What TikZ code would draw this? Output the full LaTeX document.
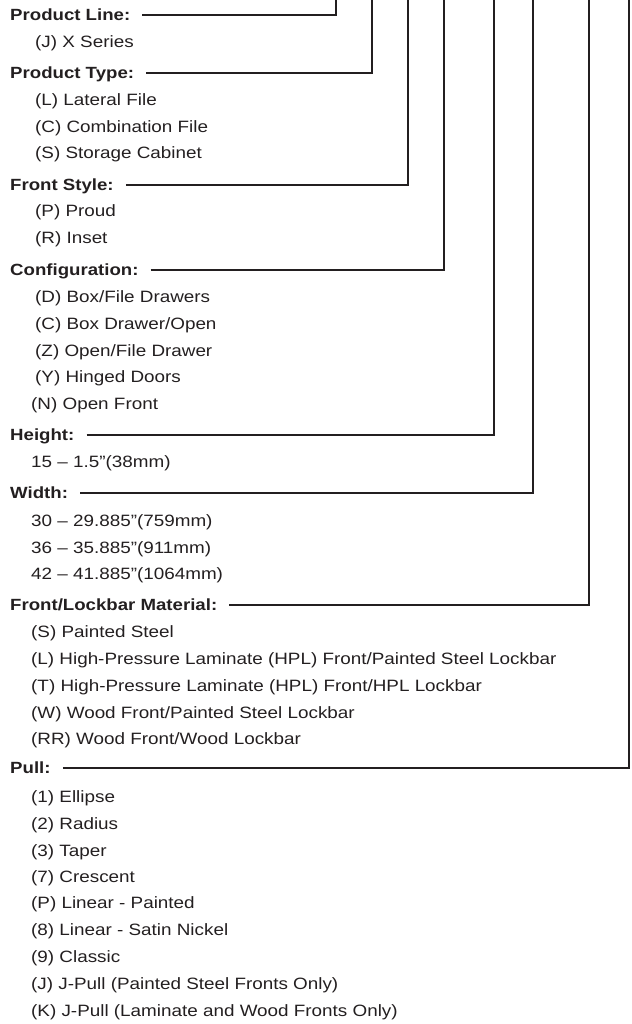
\documentclass[tikz,border=0pt]{standalone}
\usepackage{fontspec}
\setmainfont[FakeStretch=1.15]{Liberation Sans}
\definecolor{ink}{HTML}{231F20}
\begin{document}
\begin{tikzpicture}[x=1pt,y=-1pt,
  head/.style={anchor=base west, inner sep=0pt, text=ink, font=\bfseries\fontsize{16.2}{19}\selectfont},
  item/.style={anchor=base west, inner sep=0pt, text=ink, font=\fontsize{16.4}{19}\selectfont},
  conn/.style={draw=ink, line width=2pt, line join=miter}]
\useasboundingbox (0,0) rectangle (631,1024);
% top ends of the connectors
\coordinate (t1) at (336,0);
\coordinate (t2) at (372,0);
\coordinate (t3) at (408,0);
\coordinate (t4) at (444,0);
\coordinate (t5) at (494,0);
\coordinate (t6) at (533,0);
\coordinate (t7) at (589,0);
\coordinate (t8) at (629,0);
% Product Line
\node[head] (h1) at (10,20.7) {Product Line:};
\node[item] (i11) at (35,47.7) {(J) X Series};
% Product Type
\node[head] (h2) at (10,78.7) {Product Type:};
\node[item] (i21) at (35,105.7) {(L) Lateral File};
\node[item] (i22) at (35,132.7) {(C) Combination File};
\node[item] (i23) at (35,158.7) {(S) Storage Cabinet};
% Front Style
\node[head] (h3) at (10,190.7) {Front Style:};
\node[item] (i31) at (35,216.7) {(P) Proud};
\node[item] (i32) at (35,243.7) {(R) Inset};
% Configuration
\node[head] (h4) at (10,275.7) {Configuration:};
\node[item] (i41) at (35,302.7) {(D) Box/File Drawers};
\node[item] (i42) at (35,329.7) {(C) Box Drawer/Open};
\node[item] (i43) at (35,356.7) {(Z) Open/File Drawer};
\node[item] (i44) at (35,382.7) {(Y) Hinged Doors};
\node[item] (i45) at (31,409.7) {(N) Open Front};
% Height
\node[head] (h5) at (10,440.7) {Height:};
\node[item] (i51) at (31,467.7) {15 – 1.5”(38mm)};
% Width
\node[head] (h6) at (10,498.7) {Width:};
\node[item] (i61) at (31,526.7) {30 – 29.885”(759mm)};
\node[item] (i62) at (31,553.7) {36 – 35.885”(911mm)};
\node[item] (i63) at (31,579.7) {42 – 41.885”(1064mm)};
% Front/Lockbar Material
\node[head] (h7) at (10,610.7) {Front/Lockbar Material:};
\node[item] (i71) at (31,637.7) {(S) Painted Steel};
\node[item] (i72) at (31,664.7) {(L) High-Pressure Laminate (HPL) Front/Painted Steel Lockbar};
\node[item] (i73) at (31,691.7) {(T) High-Pressure Laminate (HPL) Front/HPL Lockbar};
\node[item] (i74) at (31,718.7) {(W) Wood Front/Painted Steel Lockbar};
\node[item] (i75) at (31,744.7) {(RR) Wood Front/Wood Lockbar};
% Pull
\node[head] (h8) at (10,773.7) {Pull:};
\node[item] (i81) at (31,802.7) {(1) Ellipse};
\node[item] (i82) at (31,829.7) {(2) Radius};
\node[item] (i83) at (31,856.7) {(3) Taper};
\node[item] (i84) at (31,882.7) {(7) Crescent};
\node[item] (i85) at (31,908.7) {(P) Linear - Painted};
\node[item] (i86) at (31,935.7) {(8) Linear - Satin Nickel};
\node[item] (i87) at (31,962.7) {(9) Classic};
\node[item] (i88) at (31,989.7) {(J) J-Pull (Painted Steel Fronts Only)};
\node[item] (i89) at (31,1016.7) {(K) J-Pull (Laminate and Wood Fronts Only)};
% connectors
\draw[conn] ([xshift=12pt,yshift=5.7pt]h1.base east) -| (t1);
\draw[conn] ([xshift=12pt,yshift=5.7pt]h2.base east) -| (t2);
\draw[conn] ([xshift=12pt,yshift=5.7pt]h3.base east) -| (t3);
\draw[conn] ([xshift=12pt,yshift=5.7pt]h4.base east) -| (t4);
\draw[conn] ([xshift=12pt,yshift=5.7pt]h5.base east) -| (t5);
\draw[conn] ([xshift=12pt,yshift=5.7pt]h6.base east) -| (t6);
\draw[conn] ([xshift=12pt,yshift=5.7pt]h7.base east) -| (t7);
\draw[conn] ([xshift=12pt,yshift=5.7pt]h8.base east) -| (t8);
\end{tikzpicture}
\end{document}
